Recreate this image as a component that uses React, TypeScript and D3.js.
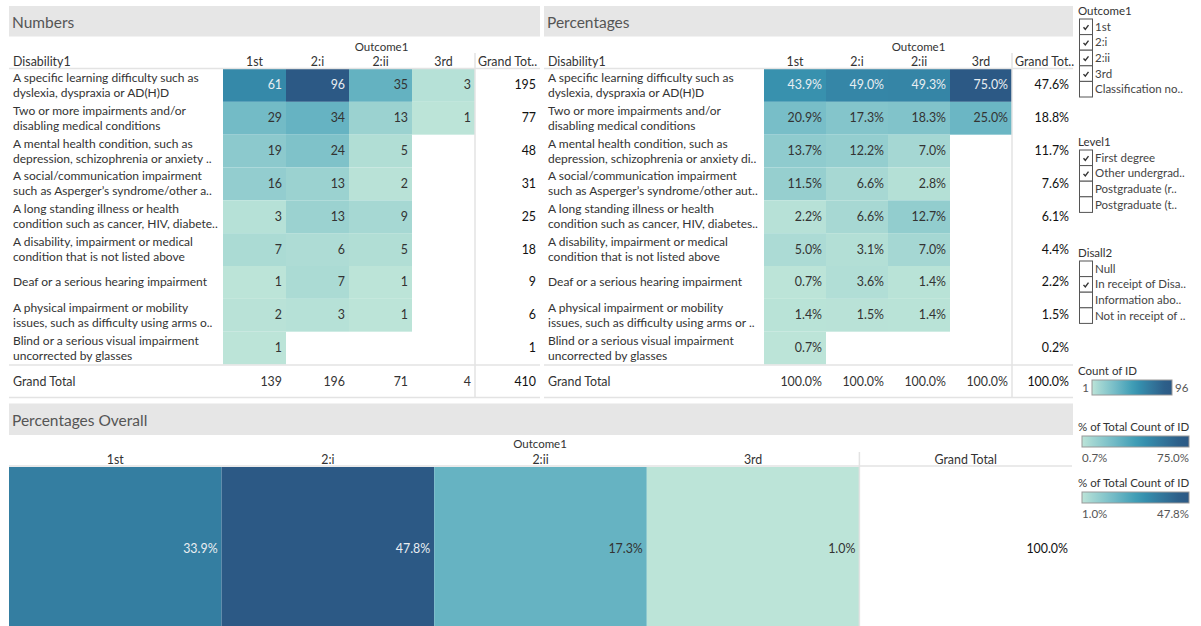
import React from 'react';
import * as d3 from 'd3';

const outcomes = ['1st', '2:i', '2:ii', '3rd'];

const numberLabels: string[][] = [
  ['A specific learning difficulty such as', 'dyslexia, dyspraxia or AD(H)D'],
  ['Two or more impairments and/or', 'disabling medical conditions'],
  ['A mental health condition, such as', 'depression, schizophrenia or anxiety ..'],
  ['A social/communication impairment', 'such as Asperger\u2019s syndrome/other a..'],
  ['A long standing illness or health', 'condition such as cancer, HIV, diabete..'],
  ['A disability, impairment or medical', 'condition that is not listed above'],
  ['Deaf or a serious hearing impairment'],
  ['A physical impairment or mobility', 'issues, such as difficulty using arms o..'],
  ['Blind or a serious visual impairment', 'uncorrected by glasses'],
];

const percentLabels: string[][] = [
  ['A specific learning difficulty such as', 'dyslexia, dyspraxia or AD(H)D'],
  ['Two or more impairments and/or', 'disabling medical conditions'],
  ['A mental health condition, such as', 'depression, schizophrenia or anxiety di..'],
  ['A social/communication impairment', 'such as Asperger\u2019s syndrome/other aut..'],
  ['A long standing illness or health', 'condition such as cancer, HIV, diabetes..'],
  ['A disability, impairment or medical', 'condition that is not listed above'],
  ['Deaf or a serious hearing impairment'],
  ['A physical impairment or mobility', 'issues, such as difficulty using arms or ..'],
  ['Blind or a serious visual impairment', 'uncorrected by glasses'],
];

// counts per outcome, one entry per disability row (null = no students)
const countFirst = [61, 29, 19, 16, 3, 7, 1, 2, 1];
const countUpper = [96, 34, 24, 13, 13, 6, 7, 3, null];
const countLower = [35, 13, 5, 2, 9, 5, 1, 1, null];
const countThird = [3, 1, null, null, null, null, null, null, null];
const countRowTotals = [195, 77, 48, 31, 25, 18, 9, 6, 1];
const countColTotals = [139, 196, 71, 4, 410];

// % of column total
const pctFirst = [43.9, 20.9, 13.7, 11.5, 2.2, 5.0, 0.7, 1.4, 0.7];
const pctUpper = [49.0, 17.3, 12.2, 6.6, 6.6, 3.1, 3.6, 1.5, null];
const pctLower = [49.3, 18.3, 7.0, 2.8, 12.7, 7.0, 1.4, 1.4, null];
const pctThird = [75.0, 25.0, null, null, null, null, null, null, null];
const pctRowTotals = [47.6, 18.8, 11.7, 7.6, 6.1, 4.4, 2.2, 1.5, 0.2];
const pctColTotals = [100.0, 100.0, 100.0, 100.0, 100.0];

const overallPct = [33.9, 47.8, 17.3, 1.0];
const overallTotal = 100.0;

const countRange = [1, 96];
const pctRange = [0.7, 75.0];
const overallRange = [1.0, 47.8];

const outcomeFilter = ['1st', '2:i', '2:ii', '3rd', 'Classification no..'];
const outcomeChecked = [true, true, true, true, false];
const levelFilter = ['First degree', 'Other undergrad..', 'Postgraduate (r..', 'Postgraduate (t..'];
const levelChecked = [true, true, false, false];
const disallFilter = ['Null', 'In receipt of Disa..', 'Information abo..', 'Not in receipt of ..'];
const disallChecked = [false, true, false, false];

// tableau blue-teal
const blueTeal = ['#bce4d8', '#a1d5d2', '#89c8cc', '#72bac6', '#59acbe', '#419eb6', '#358ead', '#347ea1', '#316f96', '#2d608a', '#2c5985'];
const interp = d3.interpolateRgbBasis(blueTeal);

const FONT = 'Lato, "Noto Sans", sans-serif';
const FS = 12.4;
const LFS = 12;
const TXT = '#333';
const LINE = '#e3e3e3';

type Cell = number | null;

const Matrix: React.FC<{
  x0: number; x1: number; colStart: number; gtSep: number;
  title: string; labels: string[][]; cols: Cell[][]; rowTotals: number[];
  colTotals: number[]; domain: number[]; fmt: (v: number) => string;
}> = ({ x0, x1, colStart, gtSep, title, labels, cols, rowTotals, colTotals, domain, fmt }) => {
  const xs = d3.scaleBand<string>().domain(outcomes).range([colStart, gtSep]);
  const ys = d3.scaleBand<number>().domain(d3.range(labels.length)).range([69, 364.5]);
  const color = d3.scaleSequential(interp).domain(domain as [number, number]);
  const rel = d3.scaleLinear().domain(domain).range([0, 1]);
  const gtRight = x1 - 4;
  return (
    <g fontFamily={FONT}>
      <rect x={x0} y={6} width={x1 - x0} height={30.5} fill="#e6e6e6" />
      <text x={x0 + 3} y={27.5} fontSize={15.5} fill="#555">{title}</text>
      <text x={(colStart + x1) / 2} y={51} fontSize={11.5} fill={TXT} textAnchor="middle">Outcome1</text>
      <text x={x0 + 4} y={66} fontSize={FS} fill={TXT}>Disability1</text>
      {outcomes.map(o => (
        <text key={o} x={xs(o)! + xs.bandwidth() / 2} y={66} fontSize={FS} fill={TXT} textAnchor="middle">{o}</text>
      ))}
      <text x={gtSep + 3} y={66} fontSize={FS} fill={TXT}>Grand Tot..</text>
      {cols.map((col, ci) => col.map((v, ri) => v == null ? null : (
        <g key={`${ci}-${ri}`}>
          <rect x={xs(outcomes[ci])!} y={ys(ri)!} width={xs.bandwidth()} height={ys.bandwidth()} fill={color(v)} />
          <text x={xs(outcomes[ci])! + xs.bandwidth() - 4} y={ys(ri)! + ys.bandwidth() / 2 + 4} fontSize={FS}
            fill={rel(v) > 0.5 ? '#e9eef2' : TXT} textAnchor="end">{fmt(v)}</text>
        </g>
      )))}
      {labels.map((lines, ri) => {
        const cy = ys(ri)! + ys.bandwidth() / 2;
        return lines.map((ln, li) => (
          <text key={`${ri}-${li}`} x={x0 + 4} y={cy + 4 + (lines.length === 1 ? 0 : (li === 0 ? -7.5 : 7.5))}
            fontSize={LFS} fill={TXT}>{ln}</text>
        ));
      })}
      {rowTotals.map((v, ri) => (
        <text key={ri} x={gtRight} y={ys(ri)! + ys.bandwidth() / 2 + 4} fontSize={FS} fill="#111" textAnchor="end">{fmt(v)}</text>
      ))}
      <text x={x0 + 4} y={386} fontSize={FS} fill={TXT}>Grand Total</text>
      {colTotals.map((v, ci) => (
        <text key={ci} x={ci < 4 ? xs(outcomes[ci])! + xs.bandwidth() - 4 : gtRight} y={386} fontSize={FS}
          fill={ci < 4 ? TXT : '#111'} textAnchor="end">{fmt(v)}</text>
      ))}
      <line x1={x0} x2={x1} y1={68.5} y2={68.5} stroke={LINE} strokeWidth={1.5} />
      <line x1={x0} x2={x1} y1={365} y2={365} stroke={LINE} strokeWidth={1.5} />
      <line x1={x0} x2={x1} y1={397.5} y2={397.5} stroke={LINE} strokeWidth={1.5} />
      <line x1={gtSep} x2={gtSep} y1={53} y2={398} stroke={LINE} strokeWidth={1.5} />
    </g>
  );
};

const Overall: React.FC = () => {
  const cols = [...outcomes, 'Grand Total'];
  const xs = d3.scaleBand<string>().domain(cols).range([9, 1072]);
  const color = d3.scaleSequential(interp).domain(overallRange as [number, number]);
  const rel = d3.scaleLinear().domain(overallRange).range([0, 1]);
  const top = 467;
  const bottom = 626;
  const cy = (top + bottom) / 2 + 2;
  return (
    <g fontFamily={FONT}>
      <rect x={9} y={403.5} width={1064} height={31.5} fill="#e6e6e6" />
      <text x={12} y={425.5} fontSize={15.5} fill="#555">Percentages Overall</text>
      <text x={540} y={448} fontSize={11.5} fill={TXT} textAnchor="middle">Outcome1</text>
      {cols.map(c => (
        <text key={c} x={xs(c)! + xs.bandwidth() / 2} y={464} fontSize={FS} fill={TXT} textAnchor="middle">{c}</text>
      ))}
      {overallPct.map((v, i) => (
        <g key={i}>
          <rect x={xs(outcomes[i])!} y={top} width={xs.bandwidth()} height={bottom - top} fill={color(v)} />
          <text x={xs(outcomes[i])! + xs.bandwidth() - 4} y={cy + 4} fontSize={FS}
            fill={rel(v) > 0.5 ? '#e9eef2' : TXT} textAnchor="end">{v.toFixed(1)}%</text>
        </g>
      ))}
      <text x={xs('Grand Total')! + xs.bandwidth() - 4} y={cy + 4} fontSize={FS} fill="#111" textAnchor="end">
        {overallTotal.toFixed(1)}%
      </text>
      <line x1={9} x2={1072} y1={466} y2={466} stroke={LINE} strokeWidth={1.5} />
      <line x1={xs('Grand Total')!} x2={xs('Grand Total')!} y1={452} y2={626} stroke={LINE} strokeWidth={1.5} />
    </g>
  );
};

const Filter: React.FC<{ y: number; title: string; items: string[]; checked: boolean[] }> = ({ y, title, items, checked }) => {
  const ys = d3.scaleBand<number>().domain(d3.range(items.length)).range([y + 8, y + 8 + items.length * 15.6]);
  return (
    <g fontFamily={FONT}>
      <text x={1078} y={y + 4} fontSize={11.5} fill={TXT}>{title}</text>
      {items.map((it, i) => (
        <g key={it}>
          <rect x={1079.5} y={ys(i)!} width={13} height={ys.bandwidth()} fill="#fff" stroke="#555" strokeWidth={1} />
          {checked[i] && (
            <path d={`M${1083.5},${ys(i)! + 8.3} l1.8,2 l3.2,-4.2`} fill="none" stroke="#333" strokeWidth={1.4} />
          )}
          <text x={1095} y={ys(i)! + ys.bandwidth() / 2 + 4} fontSize={11.5} fill="#444">{it}</text>
        </g>
      ))}
    </g>
  );
};

const ColorLegend: React.FC<{ y: number; title: string; range: number[]; fmt: (v: number) => string; inline: boolean; id: string }> =
  ({ y, title, range, fmt, inline, id }) => (
    <g fontFamily={FONT}>
      <defs>
        <linearGradient id={id}>
          {blueTeal.map((c, i) => <stop key={i} offset={i / (blueTeal.length - 1)} stopColor={c} />)}
        </linearGradient>
      </defs>
      <text x={1078} y={y + 4} fontSize={11.5} fill={TXT}>{title}</text>
      {inline ? (
        <>
          <text x={1089} y={y + 21} fontSize={11.5} fill="#555" textAnchor="end">{fmt(range[0])}</text>
          <rect x={1092} y={y + 9} width={80} height={15} fill={`url(#${id})`} stroke="#999" />
          <text x={1175} y={y + 21} fontSize={11.5} fill="#555">{fmt(range[1])}</text>
        </>
      ) : (
        <>
          <rect x={1082} y={y + 9} width={107} height={11} fill={`url(#${id})`} stroke="#999" />
          <text x={1082} y={y + 35} fontSize={11.5} fill="#555">{fmt(range[0])}</text>
          <text x={1189} y={y + 35} fontSize={11.5} fill="#555" textAnchor="end">{fmt(range[1])}</text>
        </>
      )}
    </g>
  );

export default function App() {
  const pct = (v: number) => `${v.toFixed(1)}%`;
  return (
    <svg width={1201} height={626} style={{ position: 'absolute', left: 0, top: 0, background: '#fff' }}>
      <rect width={1201} height={626} fill="#fff" />
      <Matrix x0={9} x1={540} colStart={223} gtSep={475} title="Numbers" labels={numberLabels}
        cols={[countFirst, countUpper, countLower, countThird]} rowTotals={countRowTotals}
        colTotals={countColTotals} domain={countRange} fmt={v => String(v)} />
      <Matrix x0={544} x1={1073} colStart={764} gtSep={1012} title="Percentages" labels={percentLabels}
        cols={[pctFirst, pctUpper, pctLower, pctThird]} rowTotals={pctRowTotals}
        colTotals={pctColTotals} domain={pctRange} fmt={pct} />
      <Overall />
      <Filter y={11} title="Outcome1" items={outcomeFilter} checked={outcomeChecked} />
      <Filter y={142} title="Level1" items={levelFilter} checked={levelChecked} />
      <Filter y={253} title="Disall2" items={disallFilter} checked={disallChecked} />
      <ColorLegend y={371} title="Count of ID" range={countRange} fmt={v => String(v)} inline id="g1" />
      <ColorLegend y={427} title="% of Total Count of ID" range={pctRange} fmt={pct} inline={false} id="g2" />
      <ColorLegend y={483} title="% of Total Count of ID" range={overallRange} fmt={pct} inline={false} id="g3" />
    </svg>
  );
}
